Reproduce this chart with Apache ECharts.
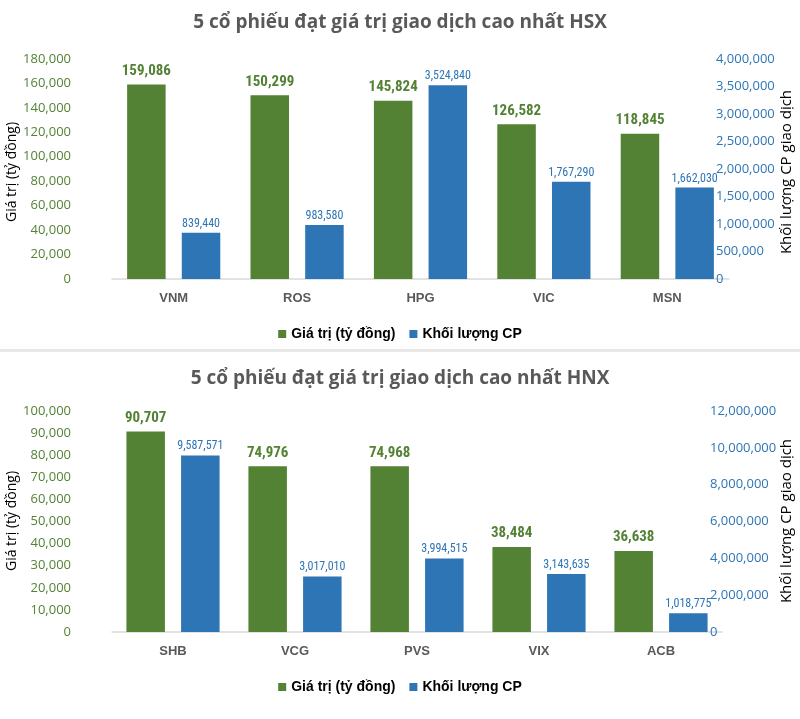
<!DOCTYPE html>
<html><head><meta charset="utf-8">
<script src="https://cdn.jsdelivr.net/npm/echarts@6/dist/echarts.min.js"></script>
<style>html,body{margin:0;padding:0;background:#fff}#c{width:800px;height:719px}</style>
</head><body><div id="c"></div>
<script>
const hsxTitle = '5 cổ phiếu đạt giá trị giao dịch cao nhất HSX';
const hnxTitle = '5 cổ phiếu đạt giá trị giao dịch cao nhất HNX';
const hsxCategories = ['VNM','ROS','HPG','VIC','MSN'];
const hsxValue = [159086,150299,145824,126582,118845];
const hsxVolume = [839440,983580,3524840,1767290,1662030];
const hnxCategories = ['SHB','VCG','PVS','VIX','ACB'];
const hnxValue = [90707,74976,74968,38484,36638];
const hnxVolume = [9587571,3017010,3994515,3143635,1018775];
const nameValue = 'Giá trị (tỷ đồng)';
const nameVolume = 'Khối lượng CP';
const leftAxisName = 'Giá trị (tỷ đồng)';
const rightAxisName = 'Khối lượng CP giao dịch';

const GREEN = '#548235', BLUE = '#2E75B6';
const fmt = v => Number(v).toLocaleString('en-US');
const tickFont = 'Open Sans, Calibri, sans-serif';
const narrow = '"Liberation Sans Narrow", "Arial Narrow", "Roboto Condensed", sans-serif';

function xAx(gi, cats){
  return {type:'category', gridIndex:gi, data:cats,
    axisLine:{lineStyle:{color:'#d9d9d9', width:1.5}}, axisTick:{show:false},
    axisLabel:{color:'#595959', fontWeight:'bold', fontSize:13, fontFamily:'Liberation Sans, Arial, sans-serif', margin:13}};
}
function yAx(gi, pos, max, interval, color, lmargin){
  return {type:'value', gridIndex:gi, position:pos, min:0, max:max, interval:interval,
    splitLine:{show:false}, axisLine:{show:false}, axisTick:{show:false},
    axisLabel:{color:color, fontSize:13, fontFamily:tickFont, margin:lmargin, formatter:fmt}};
}
function barS(name, xi, yi, data, color, labelStyle){
  return {type:'bar', name:name, xAxisIndex:xi, yAxisIndex:yi, data:data,
    barWidth:38.5, barGap:'42%', itemStyle:{color:color},
    label:Object.assign({show:true, position:'top', formatter:p=>fmt(p.value)}, labelStyle)};
}
function axisTitle(text, x, y, size){
  return {type:'text', x:x, y:y, rotation:Math.PI/2,
    style:{text:text, fill:'#000', font:size+'px "Open Sans", sans-serif', align:'center', verticalAlign:'middle'}};
}
const greenLbl = {color:GREEN, fontWeight:'bold', fontSize:15, fontFamily:narrow, distance:6};
const blueLbl = {color:BLUE, fontSize:12, fontFamily:narrow, distance:3};

const titleStyle = {color:'#595959', fontSize:19, fontWeight:'bold', fontFamily:'Open Sans, sans-serif'};
const legendStyle = {color:'#000', fontSize:14, fontWeight:'bold', fontFamily:'Liberation Sans, Arial, sans-serif'};

const chart = echarts.init(document.getElementById('c'), null, {renderer:'canvas'});
chart.setOption({
  animation:false,
  backgroundColor:'#fff',
  title:[
    {text:hsxTitle, left:'center', top:8, textStyle:titleStyle},
    {text:hnxTitle, left:'center', top:364, textStyle:titleStyle}
  ],
  legend:[
    {data:[nameValue,nameVolume], left:'center', top:322, itemWidth:8, itemHeight:8, itemGap:14, icon:'rect', textStyle:legendStyle},
    {data:[nameValue,nameVolume], left:'center', top:675, itemWidth:8, itemHeight:8, itemGap:14, icon:'rect', textStyle:legendStyle}
  ],
  grid:[
    {left:112, right:71, top:59, height:220, outerBoundsMode:'none', containLabel:false},
    {left:112, right:78, top:411, height:221, outerBoundsMode:'none', containLabel:false}
  ],
  xAxis:[xAx(0,hsxCategories), xAx(1,hnxCategories)],
  yAxis:[
    yAx(0,'left',180000,20000,GREEN,41),
    yAx(0,'right',4000000,500000,BLUE,-13),
    yAx(1,'left',100000,10000,GREEN,41),
    yAx(1,'right',12000000,2000000,BLUE,-12)
  ],
  series:[
    barS(nameValue,0,0,hsxValue,GREEN,greenLbl),
    barS(nameVolume,0,1,hsxVolume,BLUE,blueLbl),
    barS(nameValue,1,2,hnxValue,GREEN,greenLbl),
    barS(nameVolume,1,3,hnxVolume,BLUE,blueLbl)
  ],
  graphic:[
    {type:'rect', shape:{x:0,y:349,width:800,height:3}, style:{fill:'#e8e8e8'}},
    axisTitle(leftAxisName, 12, 172, 14),
    axisTitle(rightAxisName, 787, 172, 15),
    axisTitle(leftAxisName, 12, 521, 14),
    axisTitle(rightAxisName, 787, 521, 15)
  ]
});
</script></body></html>
